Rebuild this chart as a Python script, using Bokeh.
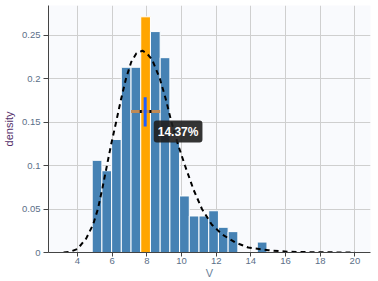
from bokeh.plotting import figure
from bokeh.models import Range1d, FixedTicker, Label
from bokeh.embed import file_html
from bokeh.resources import INLINE

# ---- data ----
bin_edges = [4.85, 5.41, 5.97, 6.53, 7.09, 7.65, 8.21, 8.77, 9.33, 9.89,
             10.45, 11.01, 11.57, 12.13, 12.69, 13.25, 13.81, 14.37, 14.93]
densities = [0.106, 0.094, 0.130, 0.213, 0.213, 0.271, 0.254, 0.224, 0.128,
             0.065, 0.042, 0.042, 0.048, 0.029, 0.024, 0.0, 0.0, 0.012]
highlight_bin = 5

curve_x = [3.2, 3.6, 4.0, 4.5, 4.9, 5.18, 5.45, 5.7, 5.95, 6.23, 6.5, 6.8,
           7.1, 7.4, 7.75, 8.0, 8.3, 8.75, 9.1, 9.42, 9.8, 10.2, 10.7, 11.18,
           11.75, 12.33, 13.1, 13.85, 15.0, 16.1, 17.0, 18.0, 19.0, 20.0]
curve_y = [0.0, 0.001, 0.004, 0.016, 0.032, 0.05, 0.075, 0.1, 0.125, 0.15,
           0.175, 0.2, 0.219, 0.229, 0.232, 0.229, 0.222, 0.2, 0.176, 0.15,
           0.124, 0.1, 0.072, 0.05, 0.032, 0.021, 0.0115, 0.0057, 0.0026,
           0.001, 0.0005, 0.0003, 0.0001, 0.0]

err_x_center = 7.905
err_x_lo = 7.09
err_x_hi = 8.77
err_y_center = 0.162
err_y_lo = 0.145
err_y_hi = 0.1785
share_text = "14.37%"

x_ticks = [4, 6, 8, 10, 12, 14, 16, 18, 20]
y_ticks = [0, 0.05, 0.1, 0.15, 0.2, 0.25]
y_tick_labels = ["0", "0.05", "0.1", "0.15", "0.2", "0.25"]

# ---- figure ----
p = figure(width=378, height=281, output_backend="svg", toolbar_location=None,
           x_range=Range1d(2.33, 20.9), y_range=Range1d(0, 0.284),
           min_border_left=45, min_border_right=8, min_border_top=5,
           min_border_bottom=28)
p.background_fill_color = "#f9fafd"
p.border_fill_color = "white"
p.outline_line_color = None

lefts = bin_edges[:-1]
rights = bin_edges[1:]
colors = ["orange" if i == highlight_bin else "steelblue" for i in range(len(densities))]
p.quad(left=lefts, right=rights, bottom=0, top=densities, fill_color=colors,
       line_color="white", line_width=1)

p.line(curve_x, curve_y, line_color="black", line_width=2, line_dash="5 4")

# horizontal interval
p.segment(x0=[err_x_lo], y0=[err_y_center], x1=[err_x_hi], y1=[err_y_center],
          line_color="#c08a55", line_width=3)
inner = [e for e in bin_edges if err_x_lo < e < err_x_hi]
p.rect(x=inner, y=[err_y_center] * len(inner), width=2, height=3,
       width_units="screen", height_units="screen", fill_color="black",
       line_color=None)
# vertical interval
p.segment(x0=[err_x_center], y0=[err_y_lo], x1=[err_x_center], y1=[err_y_hi],
          line_color="#1f5fff", line_width=3)

lab = Label(x=8.4, y=0.139, text=share_text, text_color="white",
            text_font="Liberation Sans", text_font_size="12px",
            text_font_style="bold", text_baseline="middle",
            background_fill_color="#1e1e1e", background_fill_alpha=0.9,
            padding=4, border_radius=3)
p.add_layout(lab)

# axes
p.xaxis.ticker = FixedTicker(ticks=x_ticks)
p.yaxis.ticker = FixedTicker(ticks=y_ticks)
p.yaxis.major_label_overrides = {t: l for t, l in zip(y_ticks, y_tick_labels)}
p.xaxis.axis_label = "V"
p.yaxis.axis_label = "density"
for ax in (p.xaxis, p.yaxis):
    ax.axis_line_color = "#444444"
    ax.major_tick_line_color = "#444444"
    ax.minor_tick_line_color = None
    ax.major_tick_in = 0
    ax.major_label_text_font = "Liberation Sans"
    ax.major_label_text_font_size = "9.5px"
    ax.major_label_text_color = "#5b6f88"
    ax.axis_label_text_font = "Liberation Sans"
    ax.axis_label_text_font_size = "11px"
    ax.axis_label_text_font_style = "normal"
p.yaxis.major_tick_out = 5
p.xaxis.major_tick_out = 4
p.yaxis.major_label_standoff = 3
p.xaxis.major_label_standoff = 1
p.xaxis.axis_label_standoff = 0
p.yaxis.axis_label_standoff = 4
p.yaxis.axis_label_text_color = "#55306a"
p.xaxis.axis_label_text_color = "#6a7f9a"
p.grid.grid_line_color = "#cfcfcf"

open("out.html", "w").write(file_html(p, INLINE))
